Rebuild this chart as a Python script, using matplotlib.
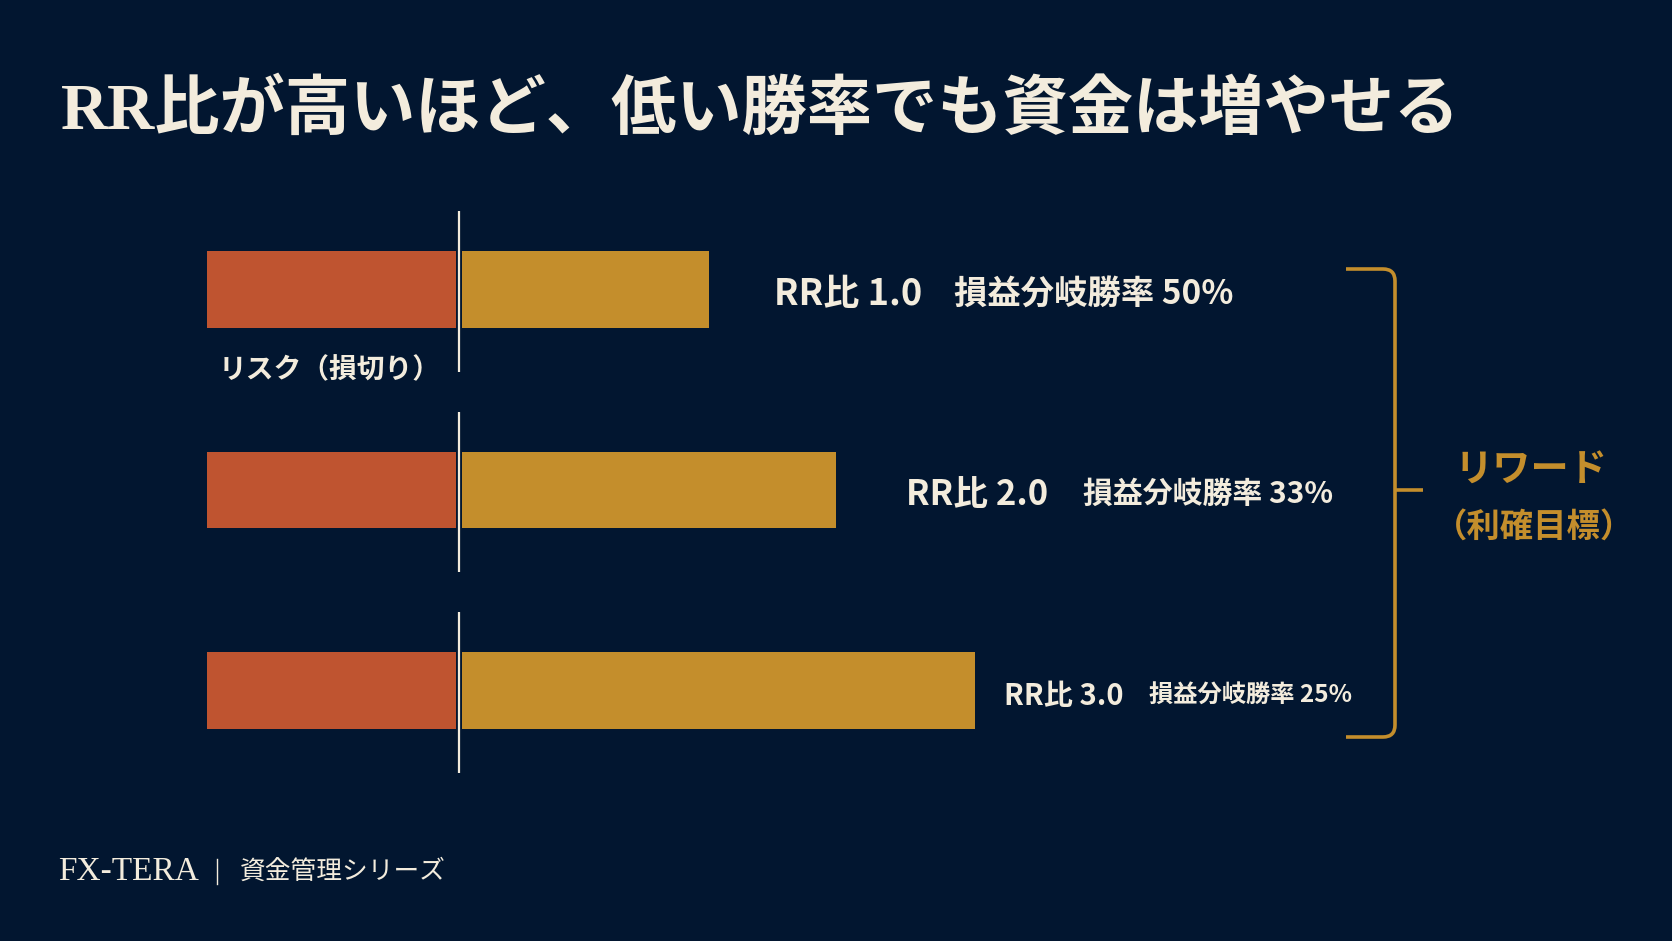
import matplotlib
matplotlib.use('Agg')
import matplotlib.pyplot as plt
from matplotlib.path import Path
from matplotlib.patches import PathPatch

plt.rcParams['font.family'] = ['Noto Sans CJK JP', 'DejaVu Sans']

# ---- data ----
rr_labels = ['RR比 1.0', 'RR比 2.0', 'RR比 3.0']
breakeven = [50, 33, 25]          # 損益分岐勝率 (%)
risk = [1.0, 1.0, 1.0]            # リスク (損切り) = 1単位
reward = [0.99, 1.50, 2.06]       # 図中の利確バーの長さ (リスク単位)

W, H = 1672, 941
BG = '#021630'
RED = '#BF5430'
GOLD = '#C48E2C'
CREAM = '#F3ECDD'

fig = plt.figure(figsize=(W / 100, H / 100), dpi=100, facecolor=BG)

# bar axes: 1 risk unit = 249 px, zero line at x=459 px, rows 200.5 px apart
ax = fig.add_axes([0, 0, 1, 1])
ax.set_facecolor(BG)
ax.set_xlim(-459 / 249, (W - 459) / 249)
ax.set_ylim((H - 289.5) / 200.5, -289.5 / 200.5)
ax.axis('off')

rows = list(range(len(reward)))
bh = 0.38
ax.barh(rows, risk, left=[-r - 0.012 for r in risk], height=bh, color=RED)
ax.barh(rows, reward, left=0.014, height=bh, color=GOLD)
for i in rows:
    ax.vlines(0, i - 0.39, i + 0.41, color=CREAM, lw=1.6)

# overlay in pixel coordinates for annotations
ov = fig.add_axes([0, 0, 1, 1], facecolor='none')
ov.set_xlim(0, W)
ov.set_ylim(H, 0)
ov.axis('off')

# title
ov.text(61, 111, 'RR比が高いほど、低い勝率でも資金は増やせる', fontsize=47,
        fontweight='bold', color=CREAM, va='center', ha='left',
        family=['Liberation Serif', 'Noto Sans CJK JP'])

# row labels
rr_pos = [(774, 295, 26), (906, 494, 25), (1004, 696, 21)]
be_pos = [(954, 295, 24), (1083, 494, 21.5), (1149, 696, 17.5)]
for i in rows:
    x, y, fs = rr_pos[i]
    ov.text(x, y, rr_labels[i], fontsize=fs, fontweight='bold', color=CREAM,
            va='center', ha='left')
    x, y, fs = be_pos[i]
    ov.text(x, y, f'損益分岐勝率 {breakeven[i]}%', fontsize=fs, fontweight='bold',
            color=CREAM, va='center', ha='left')

ov.text(219, 370, 'リスク（損切り）', fontsize=20, fontweight='bold', color=CREAM,
        va='center', ha='left')

# bracket
r = 12
verts = [(1346, 269), (1395 - r, 269), (1395, 269), (1395, 269 + r),
         (1395, 737 - r), (1395, 737), (1395 - r, 737), (1346, 737)]
codes = [Path.MOVETO, Path.LINETO, Path.CURVE3, Path.CURVE3,
         Path.LINETO, Path.CURVE3, Path.CURVE3, Path.LINETO]
ov.add_patch(PathPatch(Path(verts, codes), fill=False, edgecolor=GOLD, lw=2.6,
                       capstyle='butt'))
ov.plot([1395, 1423], [490, 490], color=GOLD, lw=2.6, solid_capstyle='butt')

ov.text(1531, 470, 'リワード', fontsize=27.5, fontweight='bold', color=GOLD,
        va='center', ha='center')
ov.text(1534, 527, '（利確目標）', fontsize=24, fontweight='bold', color=GOLD,
        va='center', ha='center')

# footer
ov.text(58, 872, 'FX-TERA', fontsize=24, color=CREAM, va='center', ha='left',
        family=['Liberation Serif'])
ov.plot([217, 217], [859, 884], color=CREAM, lw=1.0)
ov.text(240, 872, '資金管理シリーズ', fontsize=18.5, color=CREAM, va='center', ha='left')

fig.savefig('out.png', dpi=100, facecolor=BG)
